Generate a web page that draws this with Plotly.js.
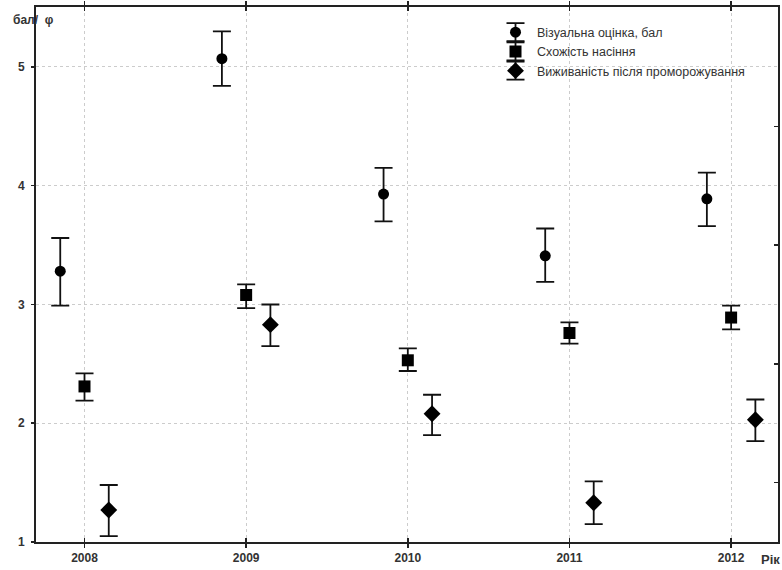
<!DOCTYPE html>
<html>
<head>
<meta charset="utf-8">
<script src="https://cdn.plot.ly/plotly-3.0.1.min.js"></script>
<style>html,body{margin:0;padding:0;background:#fff;}#chart{width:782px;height:570px;}</style>
</head>
<body>
<div id="chart"></div>
<script>
const years = [2008, 2009, 2010, 2011, 2012];
const seriesNames = ["Візуальна оцінка, бал", "Схожість насіння", "Виживаність після проморожування"];
const visualMean = [3.28, 5.07, 3.93, 3.41, 3.89];
const visualUpper = [3.56, 5.30, 4.15, 3.64, 4.11];
const visualLower = [2.99, 4.84, 3.70, 3.19, 3.66];
const germMean = [2.31, 3.08, 2.53, 2.76, 2.89];
const germUpper = [2.42, 3.17, 2.63, 2.85, 2.99];
const germLower = [2.19, 2.97, 2.44, 2.67, 2.79];
const survMean = [1.27, 2.83, 2.08, 1.33, 2.03];
const survUpper = [1.48, 3.00, 2.24, 1.51, 2.20];
const survLower = [1.05, 2.65, 1.90, 1.15, 1.85];
const offsets = [-0.15, 0, 0.15];
const symbols = ["circle", "square", "diamond"];
const sizes = [11, 12, 13];

const means = [visualMean, germMean, survMean];
const uppers = [visualUpper, germUpper, survUpper];
const lowers = [visualLower, germLower, survLower];

const traces = means.map((m, i) => ({
  type: "scatter",
  mode: "markers",
  name: seriesNames[i],
  x: years.map(y => y + offsets[i]),
  y: m,
  marker: {symbol: symbols[i], size: sizes[i], color: "#000"},
  error_y: {
    type: "data", symmetric: false,
    array: m.map((v, k) => uppers[i][k] - v),
    arrayminus: m.map((v, k) => v - lowers[i][k]),
    color: "#111", thickness: 1.8, width: 9
  },
  cliponaxis: false
}));

// invisible trace for right-side minor ticks
traces.push({type: "scatter", mode: "markers", x: [2008], y: [1], yaxis: "y2",
  marker: {opacity: 0}, showlegend: false, hoverinfo: "skip"});

const L = 36, T = 7, W = 742, H = 535;
const px = v => (v - L) / W;
const py = v => (T + H - v) / H;

const fam = "Liberation Sans, Arial, sans-serif";
const layout = {
  width: 782, height: 570,
  margin: {l: 36, r: 4, t: 7, b: 28},
  paper_bgcolor: "#fff", plot_bgcolor: "#fff",
  showlegend: true,
  font: {family: fam, color: "#333"},
  xaxis: {
    range: [2007.70, 2012.29],
    tickvals: years, ticktext: years.map(String),
    showgrid: true, gridcolor: "#cccccc", griddash: "dot", gridwidth: 1,
    zeroline: false,
    showline: true, linecolor: "#222", linewidth: 2, mirror: "allticks",
    ticks: "inside", ticklen: 4, tickcolor: "#222", tickwidth: 1.5,
    tickfont: {family: fam, size: 12, color: "#333", weight: "bold"},
    ticklabelstandoff: 4
  },
  yaxis: {
    range: [1, 5.505],
    tickvals: [1, 2, 3, 4, 5],
    showgrid: true, gridcolor: "#cccccc", griddash: "dot", gridwidth: 1,
    zeroline: false,
    showline: true, linecolor: "#222", linewidth: 2, mirror: true,
    ticks: "outside", ticklen: 3, tickcolor: "#222", tickwidth: 1.5,
    tickfont: {family: fam, size: 12, color: "#333", weight: "bold"},
    ticklabelstandoff: 4
  },
  yaxis2: {
    overlaying: "y", side: "right", range: [1, 5.505],
    tickvals: [1.5, 2.5, 3.5, 4.5],
    ticks: "inside", ticklen: 4, tickcolor: "#222", tickwidth: 1.5,
    showticklabels: false, showgrid: false, zeroline: false, showline: false
  },
  legend: {
    x: px(494), y: py(17.5), xanchor: "left", yanchor: "top",
    bgcolor: "rgba(255,255,255,0)",
    font: {family: fam, size: 12.5, color: "#333"},
    tracegroupgap: 0, itemwidth: 33
  },
  annotations: [
    {text: "бал/\u00a0\u00a0φ", xref: "paper", yref: "paper", x: px(11), y: py(20),
     xanchor: "left", yanchor: "middle", showarrow: false,
     font: {family: fam, size: 12, color: "#333", weight: "bold"}},
    {text: "Рік", xref: "paper", yref: "paper", x: px(759), y: py(559),
     xanchor: "left", yanchor: "middle", showarrow: false,
     font: {family: fam, size: 13, color: "#333", weight: "bold"}}
  ]
};

Plotly.newPlot("chart", traces, layout, {displayModeBar: false, staticPlot: true}).then(gd => {
  // add legend error-bar glyphs aligned to the rendered legend symbols
  const pts = gd.querySelectorAll(".legend .legendpoints path");
  const box = gd.getBoundingClientRect();
  const shapes = [];
  const line = {color: "#111", width: 1.8};
  pts.forEach(p => {
    const r = p.getBoundingClientRect();
    const cx = r.left + r.width / 2 - box.left;
    const cy = r.top + r.height / 2 - box.top;
    shapes.push({type: "line", xref: "paper", yref: "paper", layer: "below", x0: px(cx), x1: px(cx), y0: py(cy - 9), y1: py(cy + 9), line});
    shapes.push({type: "line", xref: "paper", yref: "paper", x0: px(cx - 9), x1: px(cx + 9), y0: py(cy - 9), y1: py(cy - 9), line});
    shapes.push({type: "line", xref: "paper", yref: "paper", x0: px(cx - 9), x1: px(cx + 9), y0: py(cy + 9), y1: py(cy + 9), line});
  });
  return Plotly.relayout(gd, {shapes: shapes});
});
</script>
</body>
</html>
